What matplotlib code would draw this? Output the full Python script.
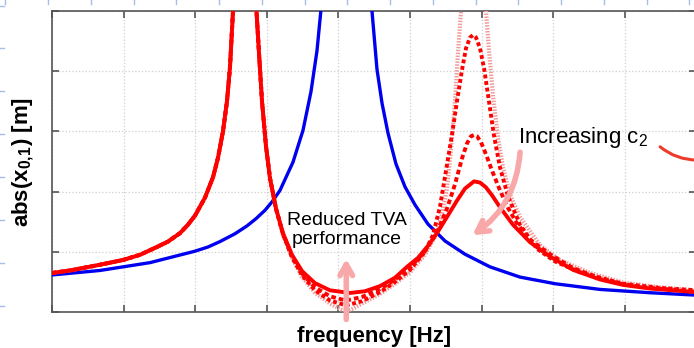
import matplotlib
matplotlib.use("Agg")
import matplotlib.pyplot as plt
from matplotlib.lines import Line2D

plt.rcParams['font.family'] = ['Liberation Sans', 'DejaVu Sans']
plt.rcParams['mathtext.fontset'] = 'custom'
plt.rcParams['mathtext.rm'] = 'Liberation Sans'
plt.rcParams['mathtext.bf'] = 'Liberation Sans:bold'

# blue curve: primary system without absorber
blue_x = [0.0, 0.670, 1.369, 1.997, 2.179, 2.346, 2.556, 2.723, 2.849, 2.975, 3.073, 3.184, 3.366, 3.506,
          3.617, 3.701, 3.771, 3.813,
          4.399, 4.469, 4.539, 4.609, 4.693, 4.804, 4.930, 5.070, 5.251, 5.489, 5.768, 6.117, 6.536, 7.025,
          7.654, 8.352, 9.0]
blue_y = [0.615, 0.69, 0.82, 1.01, 1.08, 1.17, 1.30, 1.43, 1.55, 1.69, 1.83, 2.02, 2.49, 3.02,
          3.66, 4.34, 5.2, 5.6,
          5.6, 5.0, 4.03, 3.47, 2.97, 2.46, 2.08, 1.78, 1.46, 1.18, 0.96, 0.75, 0.58, 0.47,
          0.375, 0.32, 0.28]

# red curves share the first resonance
red_left_x = [0.0, 0.251, 0.670, 0.992, 1.229, 1.466, 1.620, 1.788, 1.899, 1.997, 2.137, 2.249, 2.318,
              2.388, 2.444, 2.486, 2.528, 2.549, 2.835, 2.856, 2.891, 2.933, 2.989, 3.045, 3.128]
red_left_y = [0.648, 0.69, 0.785, 0.864, 0.95, 1.08, 1.17, 1.31, 1.45, 1.60, 1.90, 2.24, 2.56,
              3.00, 3.50, 4.07, 5.0, 5.6, 5.6, 5.0, 4.3, 3.5, 2.75, 2.22, 1.72]

# largest c2 (solid)
solid_x = [3.226, 3.352, 3.492, 3.673, 3.883, 4.162, 4.372, 4.581, 4.791, 4.958, 5.112, 5.251, 5.377,
           5.517, 5.656, 5.768, 5.894, 5.978, 6.061, 6.145, 6.257, 6.438, 6.676, 6.955, 7.277, 7.654,
           7.975, 8.352, 9.0]
solid_y = [1.31, 0.95, 0.68, 0.48, 0.36, 0.316, 0.345, 0.43, 0.57, 0.75, 0.90, 1.10, 1.31,
           1.58, 1.85, 2.05, 2.17, 2.15, 2.07, 1.94, 1.74, 1.45, 1.16, 0.92, 0.70, 0.54,
           0.45, 0.39, 0.33]

# medium c2
mid_x = [3.226, 3.352, 3.492, 3.673, 3.883, 4.106, 4.330, 4.581, 4.791, 5.000, 5.209, 5.377, 5.517,
         5.628, 5.726, 5.796, 5.852, 5.894, 5.936, 5.992, 6.061, 6.145, 6.257, 6.369, 6.494, 6.676,
         6.955, 7.277, 7.654, 7.975, 8.352, 9.0]
mid_y = [1.30, 0.93, 0.64, 0.41, 0.26, 0.19, 0.25, 0.38, 0.54, 0.74, 1.01, 1.32, 1.72,
         2.12, 2.55, 2.80, 2.92, 2.94, 2.92, 2.82, 2.62, 2.35, 2.02, 1.73, 1.47, 1.20,
         0.96, 0.73, 0.56, 0.46, 0.40, 0.34]

# small c2
low_x = [3.226, 3.352, 3.492, 3.673, 3.883, 4.106, 4.330, 4.581, 4.791, 5.000, 5.209, 5.321, 5.419,
         5.503, 5.587, 5.656, 5.726, 5.782, 5.838, 5.880, 5.922, 5.978, 6.034, 6.103, 6.173, 6.257,
         6.369, 6.536, 6.774, 7.025, 7.374, 7.975, 8.492, 9.0]
low_y = [1.29, 0.91, 0.61, 0.36, 0.19, 0.11, 0.18, 0.33, 0.50, 0.70, 1.00, 1.28, 1.75,
         2.35, 2.95, 3.50, 4.02, 4.38, 4.56, 4.60, 4.56, 4.38, 4.05, 3.50, 2.93, 2.40,
         1.92, 1.45, 1.05, 0.84, 0.66, 0.47, 0.40, 0.36]

# smallest c2 (almost undamped)
min_x = [3.226, 3.352, 3.492, 3.673, 3.883, 4.022, 4.106, 4.190, 4.330, 4.581, 4.791, 5.000, 5.209,
         5.349, 5.447, 5.517, 5.573, 5.628, 5.670, 5.712, 5.740, 6.034, 6.061, 6.103, 6.159, 6.229,
         6.299, 6.397, 6.536, 6.816, 7.095, 7.514, 7.975, 8.492, 9.0]
min_y = [1.28, 0.90, 0.58, 0.32, 0.14, 0.05, 0.01, 0.05, 0.14, 0.30, 0.47, 0.66, 0.95,
         1.25, 1.62, 2.05, 2.70, 3.50, 4.30, 5.0, 5.6, 5.6, 5.0, 4.35, 3.60, 2.90,
         2.40, 1.95, 1.58, 1.11, 0.86, 0.65, 0.49, 0.41, 0.36]

fig = plt.figure(figsize=(6.94, 3.48), dpi=100)
ax = fig.add_axes([52 / 694, 36 / 348, 644.4 / 694, 301 / 348])

ax.plot(blue_x, blue_y, color='#0000f0', lw=2.4, zorder=3)
ax.plot(red_left_x + min_x, red_left_y + min_y, color='#f09a9a', lw=3.0, ls=(0, (0.35, 0.35)), zorder=4)
ax.plot(red_left_x + low_x, red_left_y + low_y, color='#ff0000', lw=2.8, ls=(0, (1.0, 0.7)), zorder=5)
ax.plot(red_left_x + mid_x, red_left_y + mid_y, color='#ff0000', lw=2.8, ls=(0, (1.2, 0.8)), zorder=5)
ax.plot(red_left_x + solid_x, red_left_y + solid_y, color='#ff0000', lw=2.8, zorder=6)

ax.set_xlim(0, 9)
ax.set_ylim(0, 5)
ax.set_xticks(range(10))
ax.set_yticks(range(6))
ax.tick_params(axis='both', direction='in', top=True, right=True, length=5, width=1.2,
               color='#555555', labelbottom=False, labelleft=False)
ax.grid(True, color='#cfcfcf', ls=':', lw=0.9)
for s in ax.spines.values():
    s.set_color('#555555')
    s.set_linewidth(1.2)

ax.set_xlabel('frequency [Hz]', fontsize=16, fontweight='bold')
ax.xaxis.set_label_coords(0.5, -0.045)
ax.set_ylabel(r'abs(x$\mathbf{_{0,\!1}}$) [m]', fontsize=16, fontweight='bold')
ax.yaxis.set_label_coords(-0.025, 0.5)

ax.text(4.12, 1.36, 'Reduced TVA\nperformance', fontsize=14, ha='center', va='center',
        linespacing=1.15, zorder=8)
ax.text(6.51, 2.81, r'Increasing $\mathregular{c_2}$', fontsize=16, ha='left', va='baseline', zorder=8)

pink = '#f8a8a8'
ax.annotate('', xy=(4.11, 0.93), xytext=(4.11, -0.17), annotation_clip=False,
            arrowprops=dict(arrowstyle='->,head_length=0.8,head_width=0.45', color=pink, lw=4,
                            capstyle='round', joinstyle='round'), zorder=9)
ax.annotate('', xy=(5.84, 1.25), xytext=(6.54, 2.70), annotation_clip=False,
            arrowprops=dict(arrowstyle='->,head_length=0.8,head_width=0.45', color=pink, lw=4,
                            capstyle='round', joinstyle='round',
                            connectionstyle='arc3,rad=-0.25'), zorder=9)

# red callout stroke at right edge
ax.annotate('', xy=(700, 188), xytext=(658, 203), xycoords='figure pixels', textcoords='figure pixels',
            arrowprops=dict(arrowstyle='-', color='#ee3a2a', lw=2.2,
                            connectionstyle='arc3,rad=0.2'))

# faint ruler marks of the slide
for k in range(17):
    xp = (5.3 + 42.75 * k) / 694
    fig.add_artist(Line2D([xp, xp], [1.0, 1.0 - 4 / 348], color='#a8bde6', lw=1))
for k in range(8):
    yp = 1.0 - (5.5 + 42.9 * k) / 348
    fig.add_artist(Line2D([0, 4 / 694], [yp, yp], color='#a8bde6', lw=1))

fig.savefig('out.png', dpi=100)
